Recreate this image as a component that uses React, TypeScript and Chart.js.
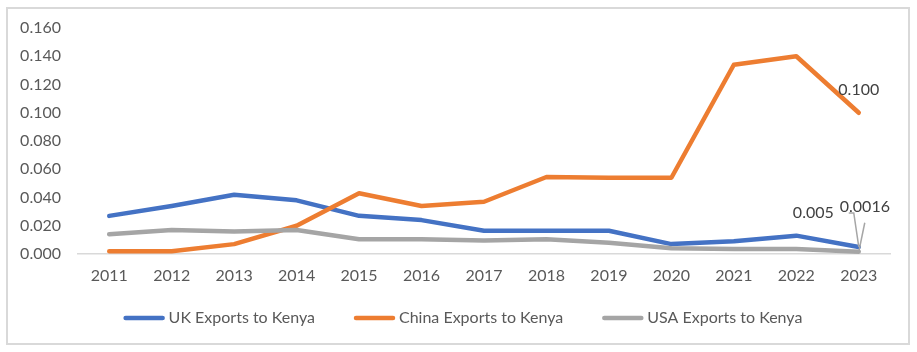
import React, { useEffect, useRef } from "react";
import { Chart, registerables } from "chart.js";

Chart.register(...registerables);

const years = ["2011", "2012", "2013", "2014", "2015", "2016", "2017", "2018", "2019", "2020", "2021", "2022", "2023"];
const ukExports = [0.027, 0.034, 0.042, 0.038, 0.027, 0.024, 0.0165, 0.0165, 0.0165, 0.007, 0.009, 0.013, 0.005];
const chinaExports = [0.002, 0.002, 0.007, 0.020, 0.043, 0.034, 0.037, 0.0545, 0.054, 0.054, 0.134, 0.140, 0.100];
const usaExports = [0.014, 0.017, 0.016, 0.017, 0.0105, 0.0105, 0.0095, 0.0105, 0.008, 0.004, 0.0035, 0.0035, 0.0016];
const yTicks = [0, 0.02, 0.04, 0.06, 0.08, 0.1, 0.12, 0.14, 0.16];
const lastLabels = ["0.005", "0.100", "0.0016"];

const FONT = "Lato";
const FS = 16;
const TEXT = "#595959";

const labelPlugin = {
  id: "lastLabels",
  afterDatasetsDraw(chart: any) {
    const ctx = chart.ctx;
    const xs = chart.scales.x;
    const ys = chart.scales.y;
    const i = years.length - 1;
    const px = xs.getPixelForValue(i);
    const pUK = ys.getPixelForValue(ukExports[i]);
    const pCN = ys.getPixelForValue(chinaExports[i]);
    const pUS = ys.getPixelForValue(usaExports[i]);
    ctx.save();
    ctx.font = `${FS}px ${FONT}`;
    ctx.fillStyle = "#404040";
    ctx.textBaseline = "middle";
    ctx.textAlign = "center";
    ctx.fillText(lastLabels[1], px, pCN - 23);
    ctx.strokeStyle = "#a6a6a6";
    ctx.lineWidth = 1.5;
    ctx.beginPath();
    ctx.moveTo(px - 10, pUK - 34);
    ctx.lineTo(px - 5, pUK - 34);
    ctx.lineTo(px, pUK);
    ctx.stroke();
    ctx.beginPath();
    ctx.moveTo(px + 6, pUS - 29);
    ctx.lineTo(px, pUS);
    ctx.stroke();
    ctx.textAlign = "right";
    ctx.fillText(lastLabels[0], px - 25, pUK - 34);
    ctx.textAlign = "left";
    ctx.fillText(lastLabels[2], px - 19, pUS - 45);
    ctx.restore();
  },
};

const legendPlugin = {
  id: "bottomLegend",
  afterDraw(chart: any) {
    const ctx = chart.ctx;
    const sample = 41;
    const gap = 4;
    const itemGap = 39;
    ctx.save();
    ctx.font = `${FS}px ${FONT}`;
    const items = chart.data.datasets.map((d: any) => ({
      text: d.label as string,
      color: d.borderColor as string,
      w: ctx.measureText(d.label).width,
    }));
    const total =
      items.reduce((s: number, it: any) => s + sample + gap + it.w, 0) + itemGap * (items.length - 1);
    let x = chart.width / 2 + 5 - total / 2;
    const y = chart.height - 25;
    ctx.textBaseline = "middle";
    ctx.textAlign = "left";
    items.forEach((it: any) => {
      ctx.strokeStyle = it.color;
      ctx.lineWidth = 4.5;
      ctx.lineCap = "round";
      ctx.beginPath();
      ctx.moveTo(x + 2, y);
      ctx.lineTo(x + sample - 2, y);
      ctx.stroke();
      ctx.fillStyle = TEXT;
      ctx.fillText(it.text, x + sample + gap, y);
      x += sample + gap + it.w + itemGap;
    });
    ctx.restore();
  },
};

export default function App() {
  const ref = useRef<HTMLCanvasElement>(null);
  useEffect(() => {
    document.body.style.margin = "0";
    const mk = (label: string, data: number[], color: string) => ({
      label,
      data,
      borderColor: color,
      backgroundColor: color,
      borderWidth: 4.5,
      pointRadius: 0,
      tension: 0,
      borderJoinStyle: "round" as const,
      borderCapStyle: "round" as const,
    });
    const chart = new Chart(ref.current!, {
      type: "line",
      data: {
        labels: years,
        datasets: [
          { ...mk("UK Exports to Kenya", ukExports, "#4472C4"), order: 3 },
          { ...mk("China Exports to Kenya", chinaExports, "#ED7D31"), order: 2 },
          { ...mk("USA Exports to Kenya", usaExports, "#A5A5A5"), order: 1 },
        ],
      },
      options: {
        animation: false,
        responsive: false,
        layout: { padding: { top: 19, right: 18, bottom: 57, left: 0 } },
        plugins: {
          tooltip: { enabled: false },
          legend: { display: false },
        },
        scales: {
          x: {
            offset: true,
            grid: { display: false, drawTicks: false, offset: true },
            border: { display: true, color: "#d9d9d9", width: 1.5 },
            ticks: { font: { family: FONT, size: FS }, color: TEXT, padding: 12, maxRotation: 0, autoSkip: false },
            afterFit: (s: any) => { s.height = 32; },
          },
          y: {
            min: 0,
            max: 0.16,
            grid: { display: false, drawTicks: false },
            border: { display: false },
            afterBuildTicks: (s: any) => { s.ticks = yTicks.map((v) => ({ value: v })); },
            ticks: {
              font: { family: FONT, size: FS },
              color: TEXT,
              padding: 17,
              callback: (v: any) => Number(v).toFixed(3),
            },
            afterFit: (s: any) => {
              s.width = 70;
              s.paddingTop = 0;
              s.paddingBottom = 0;
            },
          },
        },
      },
      plugins: [labelPlugin, legendPlugin],
    });
    return () => chart.destroy();
  }, []);
  return (
    <div style={{ position: "relative", width: 917, height: 352, background: "#fff" }}>
      <div
        style={{
          position: "absolute",
          left: 6,
          top: 7,
          width: 904,
          height: 338,
          border: "2px solid #d9d9d9",
          boxSizing: "border-box",
        }}
      >
        <canvas ref={ref} width={900} height={334} style={{ display: "block" }} />
      </div>
    </div>
  );
}
